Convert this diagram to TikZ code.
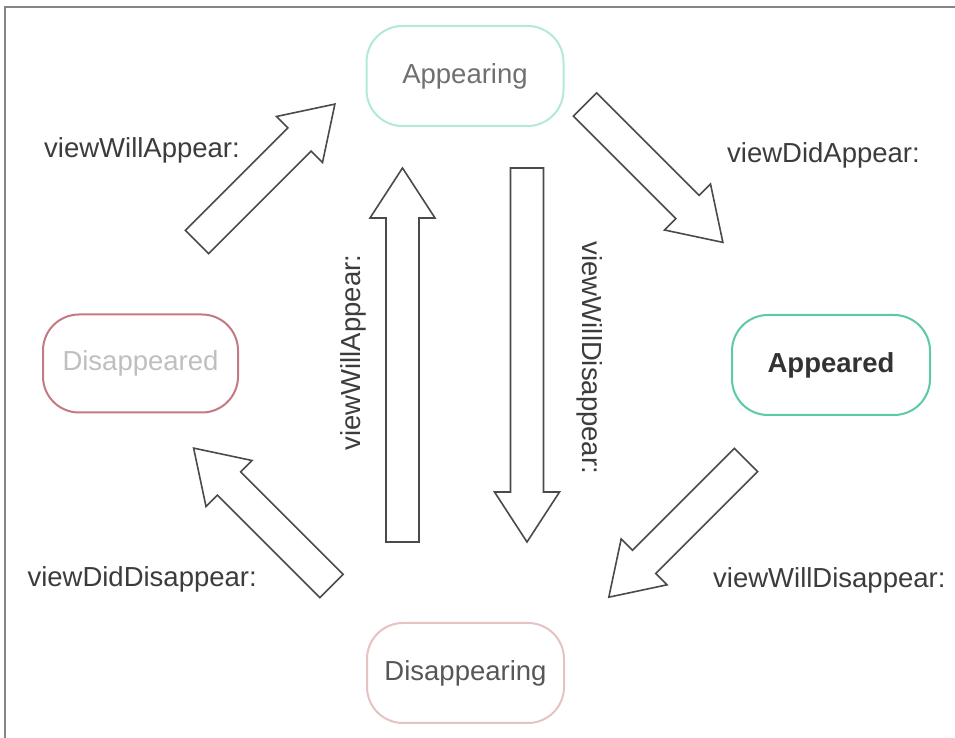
\documentclass[tikz,border=0pt]{standalone}
\usepackage{fontspec}
\setmainfont{Liberation Sans}

\definecolor{framegray}{HTML}{858585}
\definecolor{arrowgray}{HTML}{4A4A4A}
\definecolor{labelgray}{HTML}{3C3C3C}
\definecolor{mintline}{HTML}{B3E9D9}
\definecolor{tealline}{HTML}{5CC9A7}
\definecolor{roseline}{HTML}{C47A82}
\definecolor{pinkline}{HTML}{E6C3C3}

\tikzset{
  every picture/.style={x=1pt, y=1pt},
  labelfont/.style={font=\fontsize{27.5}{33}\selectfont},
  state/.style={labelfont, draw, line width=2pt, rounded corners=36pt,
                minimum width=197pt, minimum height=100pt, fill=white},
  lbl/.style={labelfont, text=labelgray, inner sep=0pt},
  blockarrow/.style={draw=arrowgray, line width=1.6pt, fill=white, line join=miter},
  framerule/.style={draw=framegray, line width=2.2pt}
}

% block arrow: tail coordinate, direction angle, total length
\newcommand{\blockarrowat}[3]{%
  \begin{scope}[shift={(#1)}, rotate=#2]
    \draw[blockarrow] (0,-16.5) -- (#3-50,-16.5) -- (#3-50,-32.5) -- (#3,0)
      -- (#3-50,32.5) -- (#3-50,16.5) -- (0,16.5) -- cycle;
  \end{scope}}

\begin{document}
\begin{tikzpicture}
  \useasboundingbox (0,0) rectangle (955,738);
  \fill[white] (0,0) rectangle (955,738);

  % frame on the top and left edges
  \draw[framerule] (5,0) -- (5,731) -- (955,731);

  % states
  \node[state, draw=mintline, text=black!56] (appearing) at (465,662) {Appearing};
  \node[state, draw=tealline, text=black!80, font=\fontsize{27.5}{33}\selectfont\bfseries,
        minimum width=198pt] (appeared) at (831,373) {Appeared};
  \node[state, draw=pinkline, text=black!66] (disappearing) at (465.5,65) {Disappearing};
  \node[state, draw=roseline, text=black!25, minimum width=195pt, minimum height=98pt]
        (disappeared) at (140.5,374.5) {Disappeared};

  % tails of the transition arrows
  \coordinate (willappear-tail) at (197,496);
  \coordinate (didappear-tail) at (585,633.5);
  \coordinate (willdisappear-tail) at (746,278);
  \coordinate (diddisappear-tail) at (331.5,152);
  \coordinate (up-tail) at (402.5,196);
  \coordinate (down-tail) at (527,570);

  \blockarrowat{willappear-tail}{45}{195}
  \blockarrowat{didappear-tail}{-45}{195}
  \blockarrowat{willdisappear-tail}{-135}{194}
  \blockarrowat{diddisappear-tail}{135}{195}
  \blockarrowat{up-tail}{90}{374}
  \blockarrowat{down-tail}{-90}{374}

  % transition labels
  \node[lbl, anchor=base east] (lbl-willappear) at (240,580) {viewWillAppear:};
  \node[lbl, anchor=base west] (lbl-didappear) at (727,575) {viewDidAppear:};
  \node[lbl, anchor=base east] (lbl-diddisappear) at (257,151) {viewDidDisappear:};
  \node[lbl, anchor=base west] (lbl-willdisappear) at (713,150) {viewWillDisappear:};
  \node[lbl, anchor=base, rotate=90] (lbl-up) at (360,385.5) {viewWillAppear:};
  \node[lbl, anchor=base, rotate=-90] (lbl-down) at (582,380) {viewWillDisappear:};
\end{tikzpicture}
\end{document}
